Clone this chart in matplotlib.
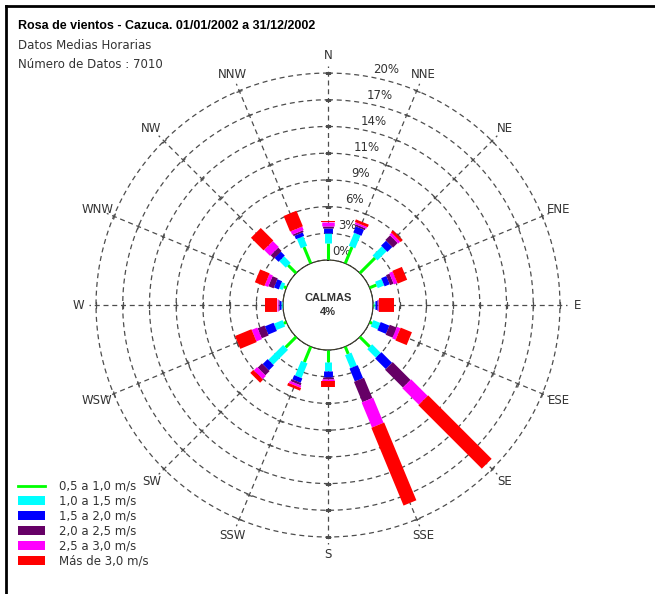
import numpy as np
import matplotlib
matplotlib.use("Agg")
import matplotlib.pyplot as plt
from matplotlib.lines import Line2D
from matplotlib.patches import Patch, Circle
from matplotlib.markers import MarkerStyle
from matplotlib.transforms import Affine2D

plt.rcParams["font.family"] = ["DejaVu Sans"]

TITLE = "Rosa de vientos - Cazuca. 01/01/2002 a 31/12/2002"
SUB1 = "Datos Medias Horarias"
SUB2 = "Número de Datos : 7010"
CALMS = 4

DIRS = ["N", "NNE", "NE", "ENE", "E", "ESE", "SE", "SSE",
        "S", "SSW", "SW", "WSW", "W", "WNW", "NW", "NNW"]

# % of hours per direction and speed class
v05_10 = [1.8, 1.9, 2.3, 0.8, 0.1, 0.3, 1.5, 0.85, 1.3, 1.8, 1.6, 0.3, 0.1, 0.3, 1.2, 1.9]
v10_15 = [1.1, 1.5, 1.4, 0.75, 0.15, 0.8, 1.3, 1.5, 1.0, 1.7, 2.25, 1.0, 0.1, 0.4, 1.0, 1.1]
v15_20 = [0.5, 0.7, 0.75, 0.6, 0.2, 1.0, 1.6, 1.5, 0.6, 0.5, 0.75, 1.0, 0.2, 0.55, 0.6, 0.4]
v20_25 = [0.2, 0.2, 0.7, 0.4, 0.1, 0.8, 2.7, 2.35, 0.2, 0.25, 0.65, 0.8, 0.1, 0.6, 0.5, 0.2]
v25_30 = [0.5, 0.2, 0.3, 0.4, 0.1, 0.4, 2.5, 2.9, 0.2, 0.25, 0.5, 0.65, 0.1, 0.4, 0.9, 0.4]
v30_up = [0.1, 0.3, 0.3, 1.1, 1.6, 1.3, 9.6, 9.0, 0.65, 0.3, 0.45, 1.9, 1.3, 1.1, 1.9, 1.8]

CLASS_LABELS = ["0,5 a 1,0 m/s", "1,0 a 1,5 m/s", "1,5 a 2,0 m/s",
                "2,0 a 2,5 m/s", "2,5 a 3,0 m/s", "Más de 3,0 m/s"]
COLORS = ["#00ff00", "#00ffff", "#0000ff", "#660066", "#ff00ff", "#ff0000"]
WIDTHS = [2.2, 5.0, 6.4, 7.8, 9.0, 10.0]   # points

RING_LABELS = ["0%", "3%", "6%", "9%", "11%", "14%", "17%", "20%"]
RMAX = 20
RLIM = RMAX + 2.5
CALM_R = 4.81   # radius of calm circle in % units

fig = plt.figure(figsize=(6.55, 5.94), dpi=100)
ax = fig.add_axes([0.1109, 0.0566, 0.7797, 0.8598], projection="polar")
ax.set_theta_zero_location("N")
ax.set_theta_direction(-1)
ax.set_ylim(0, RLIM)
ax.set_rorigin(-CALM_R)
ax.grid(False)
ax.set_xticks([]); ax.set_yticks([])
for sp in ax.spines.values():
    sp.set_visible(False)
ax.patch.set_alpha(0)

theta = np.deg2rad(np.arange(len(DIRS)) * 22.5)
rings = np.linspace(0, RMAX, len(RING_LABELS))
grey = "#4d4d4d"
txt = "#333333"

# dashed rings
tt = np.linspace(0, 2 * np.pi, 400)
for r in rings[1:]:
    ax.plot(tt, np.full_like(tt, r), color=grey, lw=0.9, ls=(0, (4, 3)), zorder=1)

# dashed spokes with little cross ticks at each ring
for th in theta:
    ax.plot([th, th], [0, RMAX + 0.8], color=grey, lw=0.9, ls=(0, (4, 3)), zorder=1)
    m = MarkerStyle("_", transform=Affine2D().rotate_deg(-np.rad2deg(th)))
    ax.plot(np.full(len(rings) - 1, th), rings[1:], ls="none", marker=m,
            ms=5, mew=0.9, color=grey, zorder=1)

# ring labels just east of north
for r, lab in zip(rings, RING_LABELS):
    ax.text(np.deg2rad(14), r + 1.1, lab, ha="center", va="center",
            fontsize=8.5, color=txt, zorder=2)

# direction labels
for th, d in zip(theta, DIRS):
    ax.text(th, RMAX + 1.9, d, ha="center", va="center", fontsize=8.5, color=txt)

# stacked bars as thick radial strokes
classes = [v05_10, v10_15, v15_20, v20_25, v25_30, v30_up]
bottom = np.zeros(len(DIRS))
for vals, col, w in zip(classes, COLORS, WIDTHS):
    vals = np.asarray(vals)
    for th, b, v in zip(theta, bottom, vals):
        ax.plot([th, th], [b, b + v], color=col, lw=w, solid_capstyle="butt", zorder=4)
    bottom = bottom + vals

# calm circle
calm = Circle((0.5, 0.5), CALM_R / (RLIM + CALM_R) / 2, transform=ax.transAxes,
              facecolor="#fff580", edgecolor="#333333", lw=0.8, ls=(0, (3, 2)), zorder=3)
ax.add_patch(calm)
ax.text(0.5, 0.5, f"CALMAS\n{CALMS}%", transform=ax.transAxes, ha="center", va="center",
        fontsize=8, fontweight="bold", color=txt, zorder=6, linespacing=1.4,
        family="Liberation Sans")

# header texts
fig.text(0.028, 0.957, TITLE, fontsize=9, fontweight="bold", va="center",
         family="Liberation Sans")
fig.text(0.028, 0.924, SUB1, fontsize=8.5, color=txt, va="center")
fig.text(0.028, 0.891, SUB2, fontsize=8.5, color=txt, va="center")

# legend
handles = [Line2D([], [], color=COLORS[0], lw=2)] + [Patch(facecolor=c) for c in COLORS[1:]]
fig.legend(handles, CLASS_LABELS, loc="upper left", bbox_to_anchor=(0.027, 0.192),
           frameon=False, fontsize=8.5, handlelength=2.3, handleheight=0.8,
           handletextpad=1.2, labelspacing=0.17, borderpad=0, borderaxespad=0,
           labelcolor=txt)

# frame lines top and left
fig.add_artist(Line2D([0.009, 1], [0.99, 0.99], transform=fig.transFigure, color="black", lw=2))
fig.add_artist(Line2D([0.009, 0.009], [0, 0.99], transform=fig.transFigure, color="black", lw=2))

fig.savefig("out.png", dpi=100)
